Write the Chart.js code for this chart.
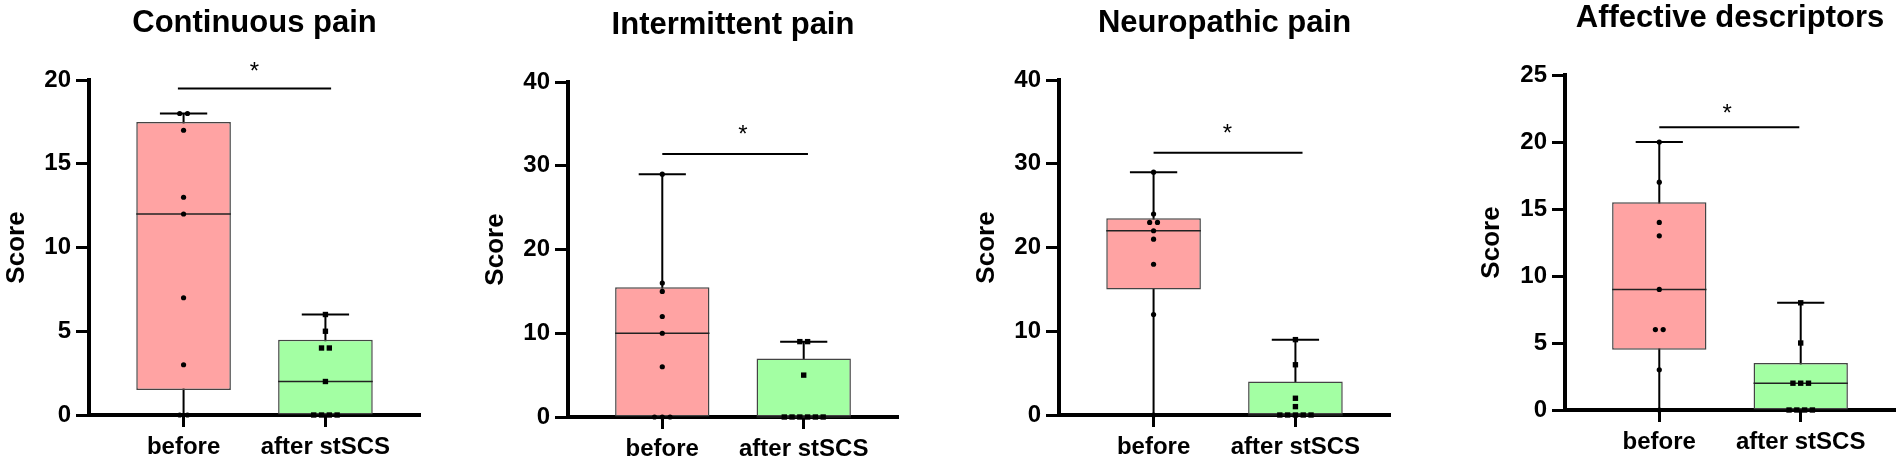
<!DOCTYPE html>
<html>
<head>
<meta charset="utf-8">
<script src="https://cdn.jsdelivr.net/npm/chart.js"></script>
<style>
  html, body { margin: 0; padding: 0; background: #fff; }
  body { position: relative; width: 1902px; height: 464px; overflow: hidden; }
  canvas { position: absolute; top: 0; }
</style>
</head>
<body>
<canvas id="c0"></canvas>
<canvas id="c1"></canvas>
<canvas id="c2"></canvas>
<canvas id="c3"></canvas>
<script>
// 데이터
const categories = ['before', 'after stSCS'];
const titles = ['Continuous pain', 'Intermittent pain', 'Neuropathic pain', 'Affective descriptors'];
const yMax = [20, 40, 40, 25];
const yStep = [5, 10, 10, 5];

const continuousBefore = [18, 18, 17, 13, 12, 7, 3, 0, 0];
const continuousAfter = [6, 5, 4, 4, 2, 0, 0, 0, 0];
const intermittentBefore = [29, 16, 15, 12, 10, 6, 0, 0, 0];
const intermittentAfter = [9, 9, 5, 0, 0, 0, 0, 0, 0];
const neuropathicBefore = [29, 24, 23, 23, 22, 21, 18, 12, 0];
const neuropathicAfter = [9, 6, 2, 1, 0, 0, 0, 0, 0];
const affectiveBefore = [20, 17, 14, 13, 9, 6, 6, 3, 0];
const affectiveAfter = [8, 5, 2, 2, 2, 0, 0, 0, 0];

// 유의성 표시 (score 단위)
const sigLineY = [19.5, 31.4, 31.3, 21.1];
const sigStarY = [20.9, 34.5, 34.4, 22.6];

const groups = [
  [continuousBefore, continuousAfter],
  [intermittentBefore, intermittentAfter],
  [neuropathicBefore, neuropathicAfter],
  [affectiveBefore, affectiveAfter],
];

// 레이아웃 (px)
const H = 464;
const panels = [
  { left: 0,    plotLeft: 89,   plotRight: 420,  plotTop: 80, plotBottom: 415, titleY: 23, sigFrom: -0.04, sigTo: 1.04, starX: 0.5 },
  { left: 479,  plotLeft: 568,  plotRight: 898,  plotTop: 82, plotBottom: 417, titleY: 25, sigFrom: 0,     sigTo: 1.03, starX: 0.57 },
  { left: 970,  plotLeft: 1059, plotRight: 1390, plotTop: 80, plotBottom: 415, titleY: 23, sigFrom: 0,     sigTo: 1.05, starX: 0.52 },
  { left: 1475, plotLeft: 1565, plotRight: 1895, plotTop: 75, plotBottom: 410, titleY: 18, sigFrom: 0,     sigTo: 0.99, starX: 0.48 },
];

const boxColors = ['#ffa3a3', '#a3ffa3'];
const JITTER = 0.055;

Chart.defaults.font.family = "'Liberation Sans', Arial, Helvetica, sans-serif";
Chart.defaults.color = '#000';

function quantile(sorted, p) {
  const n = sorted.length;
  const pos = p * (n + 1);
  const lo = Math.floor(pos), frac = pos - lo;
  if (lo < 1) return sorted[0];
  if (lo >= n) return sorted[n - 1];
  return sorted[lo - 1] + frac * (sorted[lo] - sorted[lo - 1]);
}

function boxStats(values) {
  const s = [...values].sort((a, b) => a - b);
  return { min: s[0], q1: quantile(s, 0.25), median: quantile(s, 0.5), q3: quantile(s, 0.75), max: s[s.length - 1] };
}

// 같은 값은 좌우로 펼침
function spread(values, center) {
  const counts = {}, seen = {};
  values.forEach(v => counts[v] = (counts[v] || 0) + 1);
  return values.map(v => {
    const k = counts[v];
    const i = seen[v] = (seen[v] === undefined ? 0 : seen[v] + 1);
    return { x: center + (i - (k - 1) / 2) * JITTER, y: v };
  });
}

const boxExtras = {
  id: 'boxExtras',
  beforeDatasetsDraw(chart, args, opts) {
    const { ctx, scales: { x, y } } = chart;
    const bars = chart.getDatasetMeta(2).data;
    ctx.save();
    ctx.strokeStyle = '#000';
    ctx.lineWidth = 2;
    opts.stats.forEach((s, i) => {
      const cx = x.getPixelForValue(i);
      const half = bars[i].width / 4;
      ctx.beginPath();
      ctx.moveTo(cx, y.getPixelForValue(s.min));
      ctx.lineTo(cx, y.getPixelForValue(s.max));
      [s.min, s.max].forEach(v => {
        const py = y.getPixelForValue(v);
        ctx.moveTo(cx - half, py);
        ctx.lineTo(cx + half, py);
      });
      ctx.stroke();
    });
    ctx.restore();
  },
  afterDatasetDraw(chart, args, opts) {
    if (args.index !== 2) return;
    const { ctx, scales: { y } } = chart;
    ctx.save();
    ctx.strokeStyle = '#222';
    ctx.lineWidth = 1.5;
    args.meta.data.forEach((bar, i) => {
      const py = y.getPixelForValue(opts.stats[i].median);
      ctx.beginPath();
      ctx.moveTo(bar.x - bar.width / 2, py);
      ctx.lineTo(bar.x + bar.width / 2, py);
      ctx.stroke();
    });
    ctx.restore();
  },
  afterDatasetsDraw(chart, args, opts) {
    const { ctx, scales: { x, y } } = chart;
    const py = y.getPixelForValue(opts.sigY);
    ctx.save();
    ctx.strokeStyle = '#000';
    ctx.lineWidth = 2;
    ctx.beginPath();
    ctx.moveTo(x.getPixelForValue(opts.sigFrom), py);
    ctx.lineTo(x.getPixelForValue(opts.sigTo), py);
    ctx.stroke();
    ctx.fillStyle = '#000';
    ctx.font = "24px 'Liberation Sans', Arial, sans-serif";
    ctx.textAlign = 'center';
    ctx.textBaseline = 'alphabetic';
    ctx.fillText('*', x.getPixelForValue(opts.starX), y.getPixelForValue(opts.starY) + 14);
    ctx.restore();
  }
};

panels.forEach((p, k) => {
  const canvas = document.getElementById('c' + k);
  const W = p.plotRight + 4 - p.left;
  canvas.width = W;
  canvas.height = H;
  canvas.style.left = p.left + 'px';
  canvas.style.width = W + 'px';
  canvas.style.height = H + 'px';

  const [before, after] = groups[k];
  const stats = [boxStats(before), boxStats(after)];
  const titleLine = 31 * 1.2;
  const titlePadTop = p.titleY - titleLine / 2;

  new Chart(canvas, {
    type: 'bar',
    data: {
      datasets: [
        {
          type: 'scatter',
          data: spread(before, 0),
          pointStyle: 'circle',
          pointRadius: 2.6,
          backgroundColor: '#000',
          borderWidth: 0,
          clip: false,
          order: 1
        },
        {
          type: 'scatter',
          data: spread(after, 1),
          pointStyle: 'rect',
          pointRadius: 3.8,
          backgroundColor: '#000',
          borderWidth: 0,
          clip: false,
          order: 1
        },
        {
          type: 'bar',
          data: stats.map((s, i) => ({ x: i, y: [s.q1, s.q3] })),
          backgroundColor: boxColors,
          borderColor: '#444',
          borderWidth: 1.5,
          borderSkipped: false,
          barPercentage: 0.667,
          categoryPercentage: 1,
          clip: false,
          order: 2
        }
      ]
    },
    options: {
      responsive: false,
      animation: false,
      devicePixelRatio: 1,
      layout: { padding: { left: 0, right: 4, top: 0, bottom: 0 } },
      plugins: {
        legend: { display: false },
        tooltip: { enabled: false },
        title: {
          display: true,
          text: titles[k],
          fullSize: false,
          color: '#000',
          font: { size: 31, weight: 'bold', lineHeight: 1.2 },
          padding: { top: titlePadTop, bottom: p.plotTop - titlePadTop - titleLine }
        },
        boxExtras: {
          stats,
          sigY: sigLineY[k],
          starY: sigStarY[k],
          sigFrom: p.sigFrom,
          sigTo: p.sigTo,
          starX: p.starX
        }
      },
      scales: {
        x: {
          type: 'linear',
          offset: false,
          min: -2 / 3,
          max: 5 / 3,
          afterFit: s => { s.height = H - p.plotBottom; },
          afterBuildTicks: s => { s.ticks = categories.map((_, i) => ({ value: i })); },
          grid: { offset: false, drawOnChartArea: false, drawTicks: true, tickLength: 12, tickWidth: 3, tickColor: '#000' },
          border: { display: true, color: '#000', width: 4 },
          ticks: {
            autoSkip: false,
            padding: 6,
            color: '#000',
            font: { size: 24, weight: 'bold' },
            callback: v => categories[v] ?? ''
          }
        },
        y: {
          min: 0,
          max: yMax[k],
          afterFit: s => { s.width = p.plotLeft - p.left; },
          grid: { drawOnChartArea: false, drawTicks: true, tickLength: 13, tickWidth: 3, tickColor: '#000' },
          border: { display: true, color: '#000', width: 4 },
          ticks: {
            stepSize: yStep[k],
            padding: 5,
            color: '#000',
            font: { size: 24, weight: 'bold' }
          },
          title: {
            display: true,
            text: 'Score',
            color: '#000',
            font: { size: 26, weight: 'bold', lineHeight: 1.2 },
            padding: { top: 1, bottom: 0 }
          }
        }
      }
    },
    plugins: [boxExtras]
  });
});
</script>
</body>
</html>
